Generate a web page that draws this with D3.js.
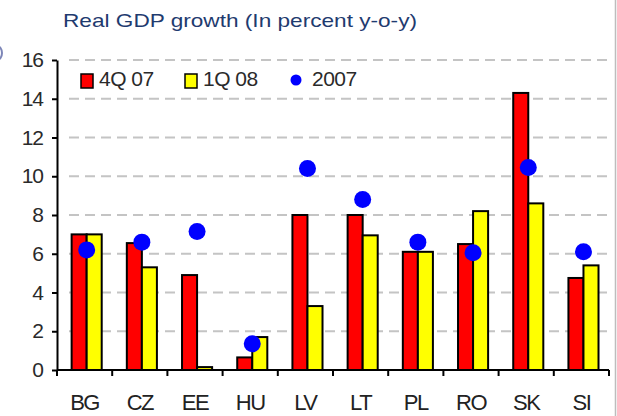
<!DOCTYPE html>
<html>
<head>
<meta charset="utf-8">
<script src="https://cdn.jsdelivr.net/npm/d3@7"></script>
<style>
  body { margin: 0; background: #fff; }
  svg { display: block; font-family: "Liberation Sans", Arial, sans-serif; }
</style>
</head>
<body>
<div id="chart"></div>
<script>
// data
const countries = ["BG", "CZ", "EE", "HU", "LV", "LT", "PL", "RO", "SK", "SI"];
const q4_07 = [7.0, 6.55, 4.9, 0.65, 8.0, 8.0, 6.1, 6.5, 14.3, 4.75];
const q1_08 = [7.0, 5.3, 0.15, 1.7, 3.3, 6.95, 6.1, 8.2, 8.6, 5.4];
const y2007 = [6.2, 6.6, 7.15, 1.35, 10.4, 8.8, 6.6, 6.05, 10.45, 6.1];
const yTicks = [0, 2, 4, 6, 8, 10, 12, 14, 16];
const seriesNames = ["4Q 07", "1Q 08", "2007"];

const W = 617, H = 416;
const margin = {left: 57, right: 8, top: 60, bottom: 46};
const width = W - margin.left - margin.right,
    height = H - margin.top - margin.bottom;

const svg = d3.select("#chart").append("svg")
    .attr("width", W)
    .attr("height", H);

// frame bits around the plot (cropped from a bigger page)
svg.append("line")
    .attr("x1", 615.5).attr("x2", 615.5).attr("y1", 0).attr("y2", H)
    .attr("stroke", "#bdbdbd").attr("stroke-width", 1.5);
svg.append("ellipse")
    .attr("cx", -3).attr("cy", 53).attr("rx", 5).attr("ry", 7)
    .attr("fill", "none").attr("stroke", "#7d86b8").attr("stroke-width", 2);

// title
svg.append("text")
    .attr("x", 63).attr("y", 27)
    .attr("fill", "#1f3b6f")
    .style("font-size", "19px")
    .attr("textLength", 354)
    .attr("lengthAdjust", "spacingAndGlyphs")
    .text("Real GDP growth (In percent y-o-y)");

const g = svg.append("g")
    .attr("transform", "translate(" + margin.left + "," + margin.top + ")");

const x = d3.scaleBand()
    .domain(countries)
    .range([0, width]);

const xSub = d3.scaleBand()
    .domain(["a", "b"])
    .range([x.bandwidth() * 0.265, x.bandwidth() * 0.81]);

const y = d3.scaleLinear()
    .domain([0, 16])
    .range([height, 0]);

// dashed gridlines
g.append("g")
    .selectAll("line")
    .data(yTicks.filter(d => d > 0))
    .enter().append("line")
    .attr("x1", 12).attr("x2", width - 1)
    .attr("y1", d => y(d)).attr("y2", d => y(d))
    .attr("stroke", "#c4c4c4")
    .attr("stroke-width", 2)
    .attr("stroke-dasharray", "10,6");

// bars
const bars = g.append("g")
    .selectAll("g")
    .data(countries)
    .enter().append("g")
    .attr("transform", d => "translate(" + x(d) + ",0)");

bars.append("rect")
    .attr("x", xSub("a"))
    .attr("width", xSub.bandwidth())
    .attr("y", (d, i) => y(q4_07[i]))
    .attr("height", (d, i) => y(0) - y(q4_07[i]))
    .attr("fill", "#ff0000")
    .attr("stroke", "#000").attr("stroke-width", 2);

bars.append("rect")
    .attr("x", xSub("b"))
    .attr("width", xSub.bandwidth())
    .attr("y", (d, i) => y(q1_08[i]))
    .attr("height", (d, i) => y(0) - y(q1_08[i]))
    .attr("fill", "#ffff00")
    .attr("stroke", "#000").attr("stroke-width", 2);

// 2007 dots
bars.append("circle")
    .attr("cx", xSub("b"))
    .attr("cy", (d, i) => y(y2007[i]))
    .attr("r", 8.5)
    .attr("fill", "#0000ff");

// y axis
const yAxis = g.append("g")
    .call(d3.axisLeft(y).tickValues(yTicks).tickSize(5).tickSizeOuter(0).tickPadding(9));
yAxis.select(".domain").attr("stroke-width", 2);
yAxis.selectAll(".tick line").attr("stroke-width", 2);
yAxis.selectAll("text")
    .style("font-size", "21px")
    .attr("fill", "#2a2a2a")
    .attr("letter-spacing", "-1px");

// x axis, ticks at band boundaries
g.append("line")
    .attr("x1", 0).attr("x2", width)
    .attr("y1", height).attr("y2", height)
    .attr("stroke", "#000").attr("stroke-width", 2);
g.append("g")
    .selectAll("line")
    .data(countries.concat(["end"]))
    .enter().append("line")
    .attr("x1", (d, i) => i < countries.length ? x(d) : width)
    .attr("x2", (d, i) => i < countries.length ? x(d) : width)
    .attr("y1", height).attr("y2", height + 6)
    .attr("stroke", "#000").attr("stroke-width", 2);
g.append("g")
    .selectAll("text")
    .data(countries)
    .enter().append("text")
    .attr("x", d => x(d) + x.bandwidth() / 2)
    .attr("y", height + 40)
    .attr("text-anchor", "middle")
    .attr("fill", "#222")
    .attr("letter-spacing", "-1.5px")
    .style("font-size", "22px")
    .text(d => d);

// legend
const legend = svg.append("g");
const legendX = [81, 185, 291];
legend.append("rect").attr("x", legendX[0]).attr("y", 74).attr("width", 12).attr("height", 14)
    .attr("fill", "#ff0000").attr("stroke", "#000").attr("stroke-width", 1.5);
legend.append("rect").attr("x", legendX[1]).attr("y", 74).attr("width", 12).attr("height", 14)
    .attr("fill", "#ffff00").attr("stroke", "#000").attr("stroke-width", 1.5);
legend.append("circle").attr("cx", legendX[2] + 5).attr("cy", 80).attr("r", 5.5)
    .attr("fill", "#0000ff");
legend.selectAll("text")
    .data(seriesNames)
    .enter().append("text")
    .attr("x", (d, i) => legendX[i] + (i < 2 ? 18 : 21))
    .attr("y", 86)
    .attr("fill", "#2a2a2a")
    .attr("letter-spacing", "-0.5px")
    .style("font-size", "21px")
    .text(d => d);
</script>
</body>
</html>
